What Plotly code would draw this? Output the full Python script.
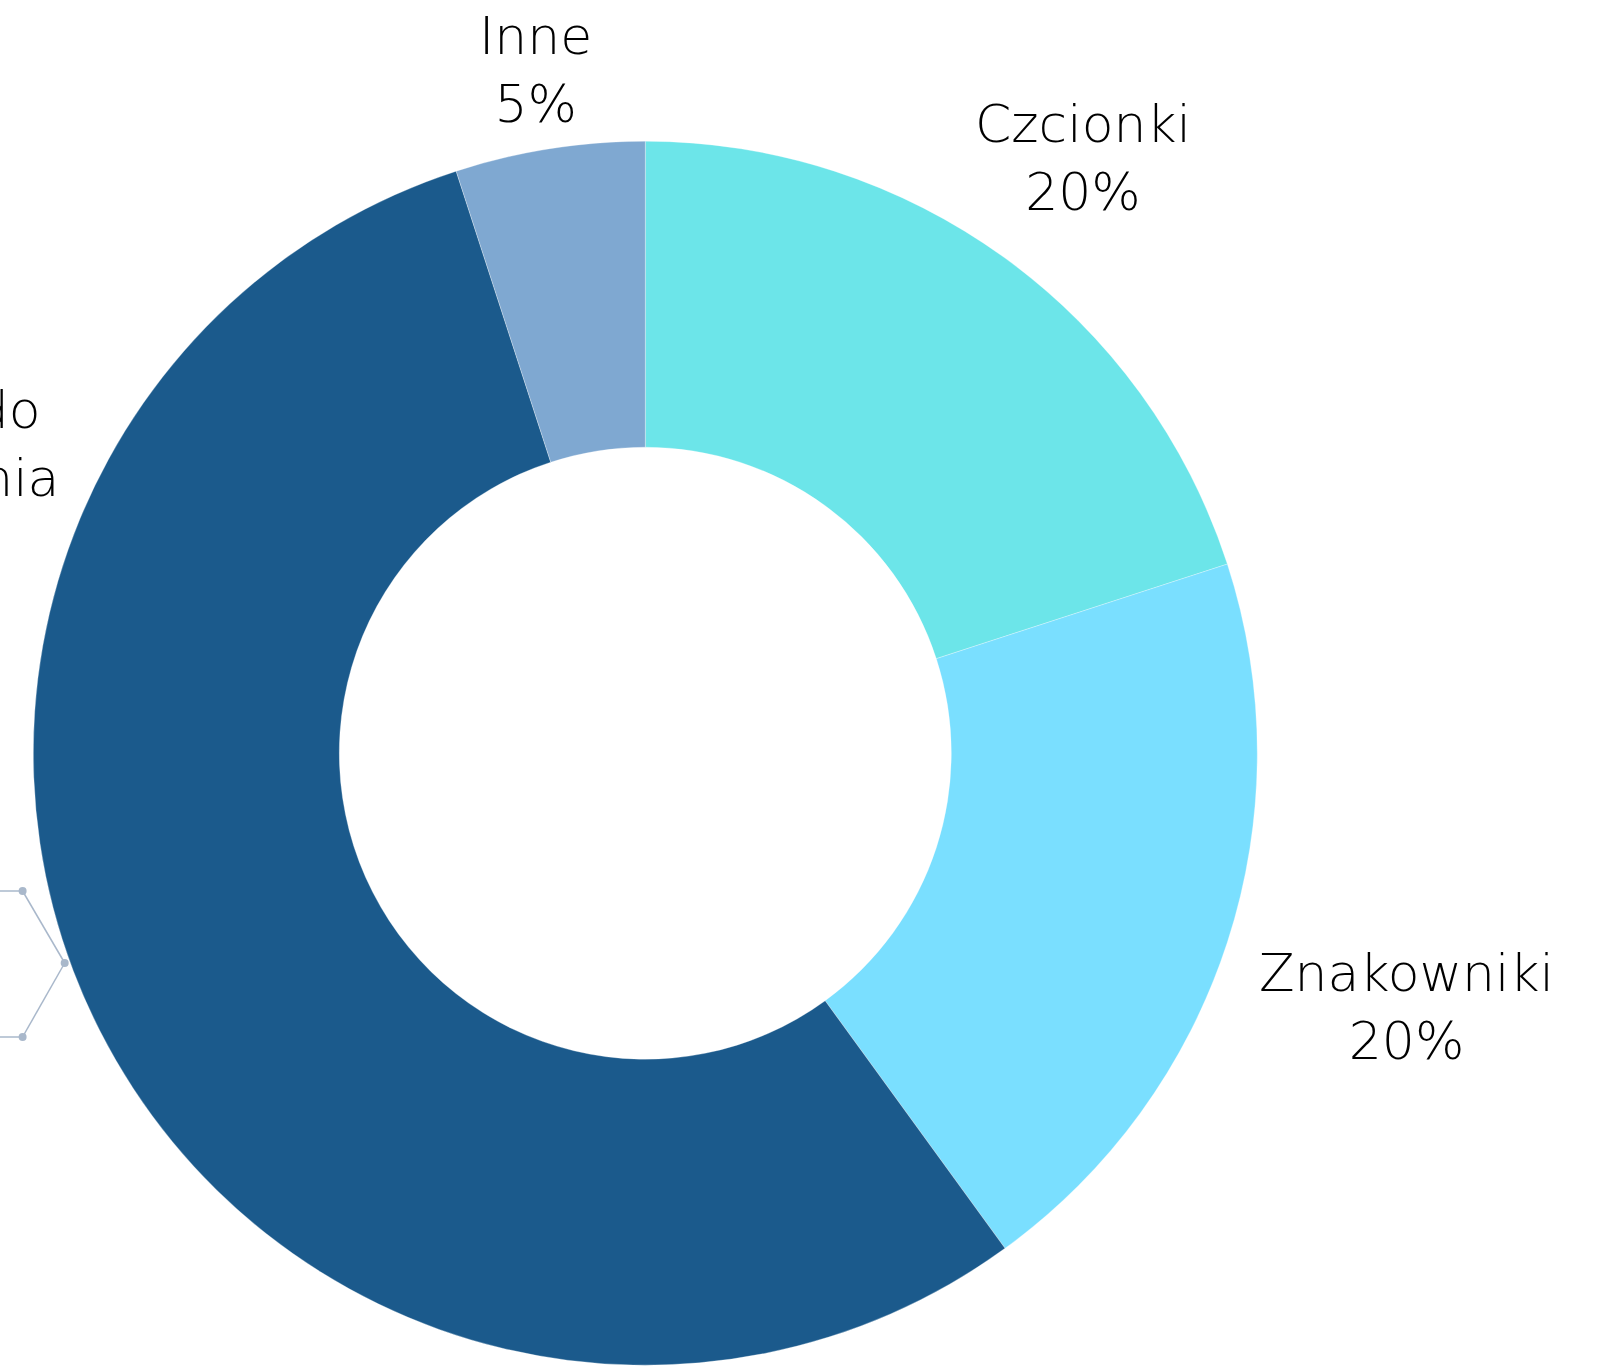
import math
import plotly.graph_objects as go

# ---- data ----
labels = ["Czcionki", "Znakowniki", "Programy do<br>projektowania", "Inne"]
values = [20, 20, 55, 5]
colors = ["#6CE5E9", "#7ADFFF", "#1B5A8C", "#7FA8D1"]

# ---- style ----
W, H = 1610, 1366
FONT = dict(family="'DejaVu Sans', sans-serif", size=52, color="#000000", weight=300)
cx, cy, r = 645.3, 753.2, 612.0
label_dist = [744, 800, None, 699]  # px from centre to label centre, along each slice's mid-angle
LABEL_DY = 7  # px vertical nudge of labels

fig = go.Figure(
    go.Pie(
        labels=labels,
        values=values,
        hole=0.5,
        sort=False,
        direction="clockwise",
        rotation=0,
        marker=dict(colors=colors, line=dict(color="rgba(255,255,255,0.6)", width=0.5)),
        textinfo="none",
        showlegend=False,
        hoverinfo="label+percent",
        domain=dict(x=[(cx - r) / W, (cx + r) / W], y=[1 - (cy + r) / H, 1 - (cy - r) / H]),
    )
)

# outside labels, positioned on each slice's mid-angle
total = sum(values)
cum = 0
for i, (lab, v) in enumerate(zip(labels, values)):
    mid = (cum + v / 2) / total * 2 * math.pi
    cum += v
    text = f"{lab}<br>{v}%"
    if label_dist[i] is None:
        # large slice label sits at upper-left, partly outside the page
        fig.add_annotation(x=61 / W, y=1 - 378 / H, xref="paper", yref="paper",
                           xanchor="right", yanchor="top", align="center",
                           showarrow=False, text=text, font=FONT)
        continue
    d = label_dist[i]
    px, py = cx + d * math.sin(mid), cy - d * math.cos(mid)
    fig.add_annotation(
        x=px / W, y=1 - (py + LABEL_DY) / H, xref="paper", yref="paper",
        xanchor="center", yanchor="middle",
        align="center", showarrow=False, text=text, font=FONT,
    )

# decorative hexagon fragment (background graphic)
deco = [(0, 891), (22.6, 891), (64.7, 963), (22.6, 1037), (0, 1037)]
shapes = []
for (x0, y0), (x1, y1) in zip(deco[:-1], deco[1:]):
    shapes.append(dict(type="line", xref="paper", yref="paper",
                       x0=x0 / W, y0=1 - y0 / H, x1=x1 / W, y1=1 - y1 / H,
                       line=dict(color="#A9B8CB", width=1.5), layer="below"))
for (x, y) in deco[1:4]:
    rr = 4
    shapes.append(dict(type="circle", xref="paper", yref="paper",
                       x0=(x - rr) / W, y0=1 - (y + rr) / H, x1=(x + rr) / W, y1=1 - (y - rr) / H,
                       fillcolor="#A9B8CB", line=dict(width=0), layer="below"))

fig.update_layout(
    width=W, height=H,
    margin=dict(l=0, r=0, t=0, b=0),
    paper_bgcolor="white", plot_bgcolor="white",
    shapes=shapes,
)

fig.write_html("out.html")
